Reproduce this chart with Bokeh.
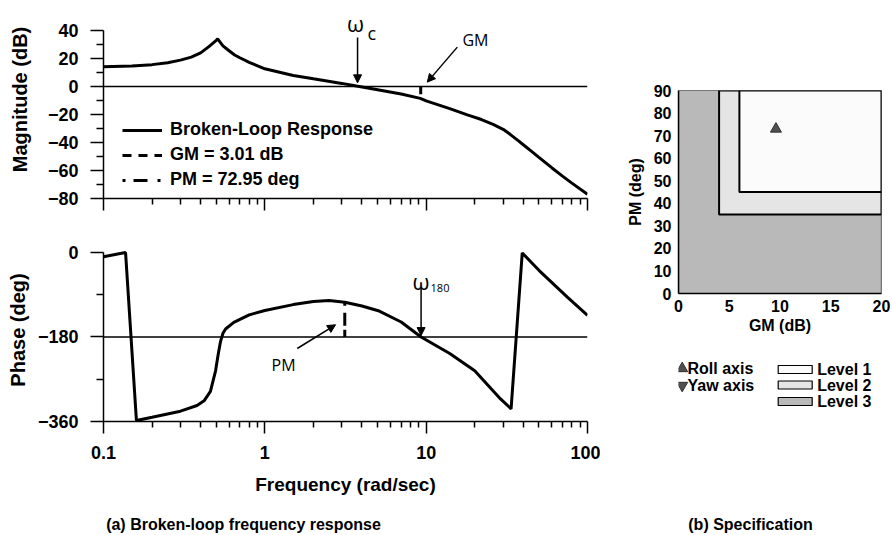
from bokeh.plotting import figure
from bokeh.models import (Range1d, FixedTicker, Span, Arrow, NormalHead, Label,
                          Legend, LegendItem, CustomJSTickFormatter)
from bokeh.layouts import column, row
from bokeh.core.properties import value
from bokeh.embed import file_html
from bokeh.resources import INLINE

# ---------------- data ----------------
freq_mag = [0.1, 0.15, 0.2, 0.25, 0.3, 0.35, 0.4, 0.45, 0.5, 0.51, 0.55, 0.6, 0.65, 0.7, 0.8,
            1.0, 1.5, 2.0, 3.0, 3.7, 5.0, 7.0, 9.2, 10.0, 14.0, 18.0, 22.0, 26.0, 30.0, 33.0,
            37.0, 40.0, 45.0, 50.0, 60.0, 70.0, 80.0, 100.0]
mag_db = [14.0, 14.6, 15.6, 17.0, 18.8, 21.0, 24.0, 28.5, 33.0, 34.0, 29.0, 25.5, 22.5, 20.5, 17.2,
          12.6, 7.9, 5.5, 2.2, 0.3, -2.4, -5.4, -8.5, -10.3, -15.8, -20.3, -23.6, -27.0, -30.6, -34.0,
          -38.5, -41.6, -46.3, -50.6, -58.0, -64.0, -69.0, -77.0]

freq_phase = [0.1, 0.137, 0.16, 0.2, 0.3, 0.38, 0.42, 0.46, 0.495, 0.515, 0.531, 0.55, 0.571,
              0.642, 0.8, 1.0, 1.5, 2.0, 2.5, 3.13, 4.0, 5.05, 7.0, 9.3, 14.0, 20.0, 28.9,
              33.6, 39.4, 50.0, 75.0, 100.0]
phase_deg = [-9, 0, -358, -351, -338, -326, -316, -296, -252, -215, -190, -172, -163,
             -149, -133, -123.5, -111, -104.5, -102.2, -106, -114, -124, -148, -180, -215, -252, -312,
             -333, -1, -38, -95, -134]

gm_label = "GM = 3.01 dB"
pm_label = "PM = 72.95 deg"
gm_freq = 9.25          # frequency of the GM marker
gm_tick_db = -5.5       # lower end of the GM marker
pm_freq = 3.13          # frequency of the PM marker
pm_value = 72.95        # deg
wc_freq = 3.756         # crossover frequency
w180_freq = 9.3         # phase crossover frequency

freq_ticks = [0.1, 1, 10, 100]
freq_minor = [0.2, 0.3, 0.4, 0.5, 0.6, 0.7, 0.8, 0.9, 2, 3, 4, 5, 6, 7, 8, 9,
              20, 30, 40, 50, 60, 70, 80, 90]
mag_ticks = [-80, -60, -40, -20, 0, 20, 40]
mag_minor = [-70, -50, -30, -10, 10, 30]
phase_ticks = [-360, -180, 0]
phase_minor = [-270, -90]

spec_gm_ticks = [0, 5, 10, 15, 20]
spec_pm_ticks = [0, 10, 20, 30, 40, 50, 60, 70, 80, 90]
levels = ["Level 3", "Level 2", "Level 1"]
level_gm_min = [0, 4, 6]
level_pm_min = [0, 35, 45]
level_colors = ["#b9b9b9", "#e5e5e5", "#fbfbfb"]
spec_gm_max = 20
spec_pm_max = 90
roll_gm = [9.6]
roll_pm = [72.95]
axes_names = ["Roll axis", "Yaw axis"]

# ---------------- styling helpers ----------------
BOLD = "Liberation Sans"
ANNO = "Open Sans"
minus_fmt = "return tick < 0 ? '\u2212' + (-tick) : '' + tick;"


def base_fig(**kw):
    p = figure(output_backend="svg", toolbar_location=None, **kw)
    p.grid.visible = False
    p.outline_line_color = None
    p.background_fill_color = "white"
    p.border_fill_color = "white"
    return p


def style_axis(ax, size="18px", tick_out=12, minor_out=6, standoff=12):
    ax.axis_line_width = 1.5
    ax.axis_line_color = "black"
    ax.major_tick_line_width = 1.5
    ax.minor_tick_line_width = 1.5
    ax.major_tick_line_color = "black"
    ax.minor_tick_line_color = "black"
    ax.major_tick_in = 0
    ax.minor_tick_in = 0
    ax.major_tick_out = tick_out
    ax.minor_tick_out = minor_out
    ax.major_label_text_font = BOLD
    ax.major_label_text_font_style = "bold"
    ax.major_label_text_font_size = size
    ax.major_label_text_color = "black"
    ax.major_label_standoff = standoff
    ax.axis_label_text_font = BOLD
    ax.axis_label_text_font_style = "bold"
    ax.axis_label_text_color = "black"


def anno_label(p, x, y, text, size, align="center"):
    p.add_layout(Label(x=x, y=y, text=text, text_font=ANNO, text_font_size=size,
                       text_align=align, text_baseline="alphabetic", text_color="black"))


def anno_arrow(p, x0, y0, x1, y1):
    p.add_layout(Arrow(end=NormalHead(size=8, fill_color="black", line_color="black", line_width=1),
                       x_start=x0, y_start=y0, x_end=x1, y_end=y1,
                       line_width=1.5, line_color="black"))


# ---------------- magnitude plot ----------------
p_mag = base_fig(width=600, height=230, x_axis_type="log",
                 x_range=Range1d(0.1, 100), y_range=Range1d(-80, 61.4),
                 min_border_left=103, min_border_right=13, min_border_top=0, min_border_bottom=32)
p_mag.add_layout(Span(location=0, dimension="width", line_color="black", line_width=1.3))
r_curve = p_mag.line(freq_mag, mag_db, line_width=3, line_color="black")
r_gm = p_mag.segment(x0=[gm_freq], y0=[0], x1=[gm_freq], y1=[gm_tick_db],
                     line_width=3, line_color="black", line_dash="9 7")
# legend key only (lies outside the visible range)
r_pm_key = p_mag.segment(x0=[0.01], y0=[-500], x1=[0.02], y1=[-500],
                         line_width=3, line_color="black", line_dash="3 8 14 10")

style_axis(p_mag.yaxis[0], tick_out=13, minor_out=7, standoff=12)
p_mag.yaxis.ticker = FixedTicker(ticks=mag_ticks, minor_ticks=mag_minor)
p_mag.yaxis.formatter = CustomJSTickFormatter(code=minus_fmt)
p_mag.yaxis.bounds = (mag_ticks[0], mag_ticks[-1])
p_mag.yaxis.axis_label = "Magnitude (dB)"
p_mag.yaxis.axis_label_text_font_size = "20px"
p_mag.yaxis.axis_label_standoff = 14

style_axis(p_mag.xaxis[0], size="1px", tick_out=12, minor_out=6, standoff=0)
p_mag.xaxis.ticker = FixedTicker(ticks=freq_ticks, minor_ticks=freq_minor)
p_mag.xaxis.formatter = CustomJSTickFormatter(code="return '';")

legend = Legend(items=[LegendItem(label="Broken-Loop Response", renderers=[r_curve]),
                       LegendItem(label=gm_label, renderers=[r_gm]),
                       LegendItem(label=pm_label, renderers=[r_pm_key])],
                location=(19, 8), glyph_width=40, glyph_height=20, label_height=20,
                label_standoff=8, spacing=4, padding=0, margin=0,
                border_line_color=None, background_fill_alpha=0,
                label_text_font=BOLD, label_text_font_style="bold",
                label_text_font_size="18px", label_text_color="black")
p_mag.add_layout(legend)

# annotations (omega_c and GM)
anno_label(p_mag, 3.65, 45.0, "\u03c9", "22px")
anno_label(p_mag, 4.33, 37.9, "c", "18px", align="left")
anno_arrow(p_mag, wc_freq, 35.0, wc_freq, 2.6)
anno_label(p_mag, 20.2, 32.9, "GM", "16px")
anno_arrow(p_mag, 15.6, 28.1, 10.16, 3.1)

# ---------------- phase plot ----------------
p_ph = base_fig(width=600, height=270, x_axis_type="log",
                x_range=Range1d(0.1, 100), y_range=Range1d(-360, 29.8),
                min_border_left=103, min_border_right=13, min_border_top=8, min_border_bottom=79)
p_ph.add_layout(Span(location=-180, dimension="width", line_color="black", line_width=1.3))
p_ph.line(freq_phase, phase_deg, line_width=3, line_color="black")
p_ph.segment(x0=[pm_freq], y0=[-180 + pm_value], x1=[pm_freq], y1=[-180],
             line_width=3, line_color="black", line_dash="3 7 13 4 8")

style_axis(p_ph.yaxis[0], tick_out=13, minor_out=7, standoff=12)
p_ph.yaxis.ticker = FixedTicker(ticks=phase_ticks, minor_ticks=phase_minor)
p_ph.yaxis.formatter = CustomJSTickFormatter(code=minus_fmt)
p_ph.yaxis.bounds = (phase_ticks[0], phase_ticks[-1])
p_ph.yaxis.axis_label = "Phase (deg)"
p_ph.yaxis.axis_label_text_font_size = "20px"
p_ph.yaxis.axis_label_standoff = 6

style_axis(p_ph.xaxis[0], tick_out=12, minor_out=6, standoff=12)
p_ph.xaxis.ticker = FixedTicker(ticks=freq_ticks, minor_ticks=freq_minor)
p_ph.xaxis.formatter = CustomJSTickFormatter(code="return '' + tick;")
p_ph.xaxis.axis_label = "Frequency (rad/sec)"
p_ph.xaxis.axis_label_text_font_size = "19px"
p_ph.xaxis.axis_label_standoff = 12

anno_label(p_ph, w180_freq, -59.7, "\u03c9", "22px")
anno_label(p_ph, 10.65, -74.6, "180", "11px", align="left")
anno_arrow(p_ph, w180_freq, -74.6, w180_freq, -177.0)
anno_label(p_ph, 1.306, -240.7, "PM", "16px")
anno_arrow(p_ph, 1.588, -204.5, 2.744, -154.0)

# ---------------- specification plot ----------------
p_spec = base_fig(width=292, height=340, x_range=Range1d(0, spec_gm_max),
                  y_range=Range1d(0, spec_pm_max),
                  min_border_left=78, min_border_right=11, min_border_top=90, min_border_bottom=47)
p_spec.quad(left=level_gm_min, right=[spec_gm_max] * 3, bottom=level_pm_min,
            top=[spec_pm_max] * 3, fill_color=level_colors, line_color="black",
            line_width=[1.2, 2, 2])
p_spec.scatter(roll_gm, roll_pm, marker="triangle", size=11, fill_color="#505050",
               line_color="#303030")
for ax in (p_spec.xaxis[0], p_spec.yaxis[0]):
    style_axis(ax, size="16px", tick_out=0, minor_out=0, standoff=7)
    ax.axis_label_text_font_size = "16px"
    ax.axis_label_standoff = 7
p_spec.xaxis.ticker = FixedTicker(ticks=spec_gm_ticks, minor_ticks=[])
p_spec.yaxis.ticker = FixedTicker(ticks=spec_pm_ticks, minor_ticks=[])
p_spec.xaxis.axis_label = "GM (dB)"
p_spec.yaxis.axis_label = "PM (deg)"
p_spec.xaxis.axis_label_standoff = 2
p_spec.xaxis.major_label_standoff = 6

# ---------------- specification legend (frame aligned with the plot above) ----------------
p_leg = base_fig(width=292, height=160, x_range=Range1d(78, 281), y_range=Range1d(160, 0),
                 min_border_left=78, min_border_right=11, min_border_top=0, min_border_bottom=0,
                 x_axis_location=None, y_axis_location=None)
p_leg.scatter([81.7], [28], marker="triangle", size=11, fill_color="#505050", line_color="#303030")
p_leg.scatter([81.7], [45], marker="inverted_triangle", size=11, fill_color="#505050",
              line_color="#303030")
p_leg.text(x=[87, 87], y=[28, 45], text=axes_names, text_font=value(BOLD),
           text_font_style="bold", text_font_size="16px", text_baseline="middle",
           text_align="left", text_color="black")
key_y = [61, 44.5, 29]
p_leg.quad(left=[177.7] * 3, right=[211.7] * 3, top=[y - 4 for y in key_y],
           bottom=[y + 4 for y in key_y], fill_color=level_colors, line_color="black",
           line_width=1.2)
p_leg.text(x=[216.7] * 3, y=key_y, text=levels, text_font=value(BOLD), text_font_style="bold",
           text_font_size="16px", text_baseline="middle", text_align="left", text_color="black")

# ---------------- captions ----------------
p_cap = base_fig(width=892, height=35, x_range=Range1d(0, 892), y_range=Range1d(35, 0),
                 min_border=0, x_axis_location=None, y_axis_location=None)
p_cap.text(x=[243, 750], y=[24, 24],
           text=["(a) Broken-loop frequency response", "(b) Specification"],
           text_font=value(BOLD), text_font_style="bold", text_font_size="16px",
           text_baseline="alphabetic", text_align="center", text_color="black")

layout = column(row(column(p_mag, p_ph, spacing=0), column(p_spec, p_leg, spacing=0), spacing=0),
                p_cap, spacing=0)

open("out.html", "w").write(file_html(layout, INLINE))
